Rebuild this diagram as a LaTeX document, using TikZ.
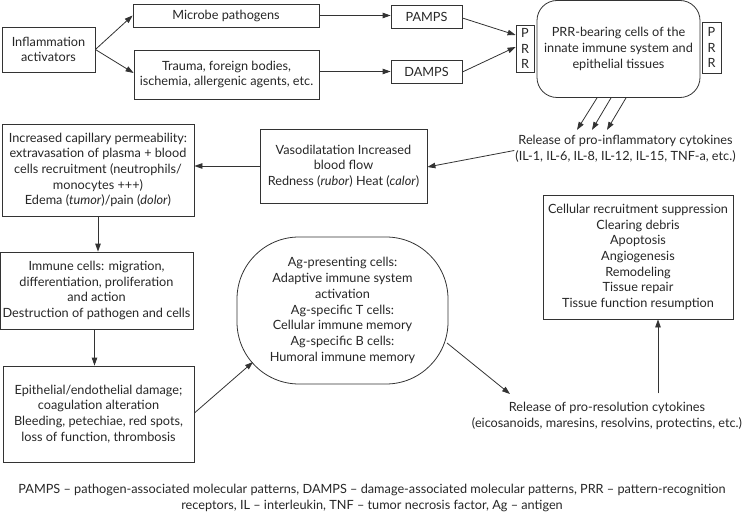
\documentclass[tikz,border=0pt]{standalone}
\usepackage{fontspec}
\setmainfont{Lato}
\usetikzlibrary{arrows.meta,calc}
\begin{document}
\begin{tikzpicture}[x=1pt,y=-1pt,
  every node/.style={font=\fontsize{12.7}{15.7}\selectfont, text=black!85, align=center, inner sep=0pt},
  box/.style={draw=black!80, line width=0.8pt, rectangle},
  arr/.style={draw=black!80, line width=0.8pt, -{Triangle[length=8pt,width=5.5pt]}},
  ln/.style={draw=black!80, line width=0.8pt}]
\useasboundingbox (0,0) rectangle (744,513);
\node[box, minimum width=93, minimum height=45] (act) at (48.5,49.5) {Inflammation\\activators};
\node[box, minimum width=186, minimum height=23] (mic) at (226,15.5) {Microbe pathogens};
\node[box, minimum width=185, minimum height=49] (tra) at (226.5,74.5) {Trauma, foreign bodies,\\ischemia, allergenic agents, etc.};
\node[box, minimum width=71, minimum height=23] (pamps) at (426.5,16.5) {PAMPS};
\node[box, minimum width=71, minimum height=23] (damps) at (426.5,71.5) {DAMPS};
\node[box, minimum width=18, minimum height=47] (prrL) at (525,48.5) {P\\R\\R};
\node[box, rounded corners=20, minimum width=163, minimum height=97] (cells) at (618.5,49) {PRR-bearing cells of the\\innate immune system and\\epithelial tissues};
\node[box, minimum width=19, minimum height=51] (prrR) at (711.5,47.5) {P\\R\\R};
\node (rel) at (625.5,148.5) {Release of pro-inflammatory cytokines\\(IL-1, IL-6, IL-8, IL-12, IL-15, TNF-a, etc.)};
\node[box, minimum width=167, minimum height=74] (vaso) at (343.5,166) {Vasodilatation Increased\\blood flow\\Redness (\textit{rubor}) Heat (\textit{calor})};
\node[box, minimum width=192, minimum height=92] (inc) at (98,170) {Increased capillary permeability:\\extravasation of plasma + blood\\cells recruitment (neutrophils/\\monocytes +++)\\Edema (\textit{tumor})/pain (\textit{dolor})};
\node[box, minimum width=193, minimum height=77] (imm) at (96.5,290.5) {Immune cells: migration,\\differentiation, proliferation\\and action\\Destruction of pathogen and cells};
\node[box, minimum width=191, minimum height=96] (epi) at (98.5,414) {Epithelial/endothelial damage;\\coagulation alteration\\Bleeding, petechiae, red spots,\\loss of function, thrombosis};
\node[box, rounded corners=62, minimum width=211, minimum height=147] (ag) at (342.5,310.5) {Ag-presenting cells:\\Adaptive immune system\\activation\\Ag-specific T cells:\\Cellular immune memory\\Ag-specific B cells:\\Humoral immune memory};
\node (res) at (607,416) {Release of pro-resolution cytokines\\(eicosanoids, maresins, resolvins, protectins, etc.)};
\node[box, minimum width=190, minimum height=124] (rec) at (638,257) {Cellular recruitment suppression\\Clearing debris\\Apoptosis\\Angiogenesis\\Remodeling\\Tissue repair\\Tissue function resumption};
\node (foot) at (372,498) {PAMPS -- pathogen-associated molecular patterns, DAMPS -- damage-associated molecular patterns, PRR -- pattern-recognition\\receptors, IL -- interleukin, TNF -- tumor necrosis factor, Ag -- antigen};
% helper coordinates
\coordinate (immS) at ($(imm.south)+(-2,0)$);
\coordinate (recS) at ($(rec.south)+(20,0)$);
\coordinate (resN) at ($(rec.south)+(20,74)$);
% connectors
\draw[arr] (act.east) -- (mic.west);
\draw[arr] (act.east) -- ($(tra.west)+(0,-1.5)$);
\draw[arr] (mic.east) -- (mic.east -| pamps.west);
\draw[arr] (tra.east |- damps.west) -- (damps.west);
\draw[arr] ($(pamps.east)+(0,1.5)$) -- ($(prrL.west)+(0,-13.5)$);
\draw[arr] ($(damps.east)+(0,0.5)$) -- ($(prrL.west)+(0,-1.5)$);
\draw[arr] ($(cells.south)+(-21.5,0)$) -- ($(cells.south)+(-41.5,32)$);
\draw[arr] ($(cells.south)+(-7.5,0)$) -- ($(cells.south)+(-26.5,32)$);
\draw[arr] ($(cells.south)+(7.5,0)$) -- ($(cells.south)+(-11.5,32)$);
\draw[arr] ($(rel.west)+(-1,2)$) -- ($(vaso.east)+(0,1)$);
\draw[arr] (vaso.west) -- (vaso.west -| inc.east);
\draw[arr] (inc.south) -- (inc.south |- imm.north);
\draw[arr] (immS) -- (immS |- epi.north);
\draw[arr] ($(epi.east)+(0,-1)$) -- ($(ag.center)+(-89.5,51.5)$);
\draw[arr] ($(ag.center)+(104.5,32.5)$) -- ($(res.center)+(-97,-22)$);
\draw[arr] (resN) -- (recS);
\end{tikzpicture}
\end{document}
